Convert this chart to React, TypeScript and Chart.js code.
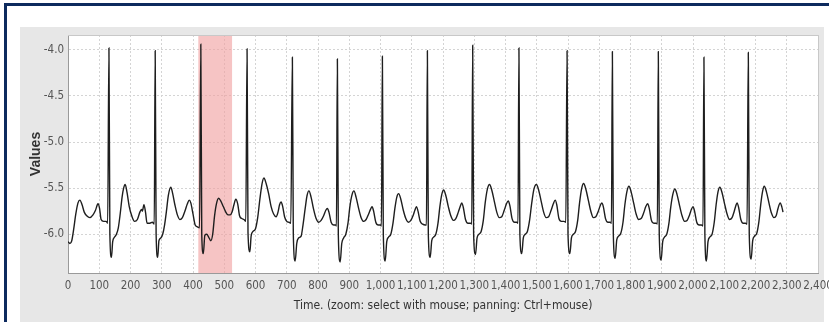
import React, { useEffect, useRef } from "react";
import { Chart, registerables } from "chart.js";

Chart.register(...registerables);

// ECG trace samples [time, value]
const leadIn: [number, number][] = [[0,-6.08],[6,-6.1],[12,-6.07],[18,-5.95],[25,-5.78],[32,-5.66],[38,-5.63],[45,-5.68],[52,-5.76],[60,-5.8],[70,-5.82],[80,-5.79],[88,-5.74],[96,-5.67],[101,-5.72],[106,-5.84],[114,-5.86],[122,-5.86],[127,-5.88]];
const beat1: [number, number][] = [[131,-3.98],[134,-6.0],[139,-6.25],[143,-6.08],[149,-6.03],[155,-6.0],[161,-5.93],[167,-5.78],[173,-5.6],[178,-5.5],[183,-5.46],[189,-5.55],[196,-5.7],[204,-5.8],[213,-5.86],[222,-5.84],[230,-5.76],[235,-5.73],[238,-5.75],[243,-5.68],[248,-5.76],[253,-5.88],[262,-5.88],[270,-5.87],[276,-5.89]];
const beat2: [number, number][] = [[279,-4.01],[282,-6.0],[287,-6.25],[291,-6.07],[297,-6.04],[303,-6.0],[309,-5.9],[315,-5.75],[321,-5.58],[329,-5.49],[335,-5.56],[342,-5.68],[350,-5.79],[358,-5.84],[366,-5.82],[374,-5.75],[382,-5.67],[388,-5.63],[393,-5.66],[400,-5.78],[407,-5.9],[414,-5.92],[421,-5.93]];
const beat3: [number, number][] = [[425,-3.94],[428,-6.0],[433,-6.21],[438,-6.01],[444,-6.0],[450,-6.03],[457,-6.07],[463,-6.0],[469,-5.8],[475,-5.67],[482,-5.61],[489,-5.64],[497,-5.7],[505,-5.76],[512,-5.79],[519,-5.79],[525,-5.76],[531,-5.68],[537,-5.62],[543,-5.67],[549,-5.8],[556,-5.83],[563,-5.84],[569,-5.86]];
const beat4: [number, number][] = [[573,-3.99],[576,-5.98],[582,-6.19],[586,-6.02],[592,-5.97],[600,-5.94],[607,-5.82],[614,-5.62],[621,-5.45],[627,-5.39],[634,-5.45],[642,-5.56],[650,-5.7],[658,-5.78],[666,-5.81],[672,-5.76],[677,-5.68],[682,-5.65],[687,-5.7],[693,-5.81],[700,-5.86],[707,-5.87],[713,-5.88]];
const beat5: [number, number][] = [[718,-4.08],[721,-6.0],[727,-6.29],[732,-6.1],[738,-6.04],[746,-6.02],[752,-5.9],[759,-5.72],[765,-5.58],[771,-5.53],[778,-5.6],[786,-5.73],[794,-5.83],[802,-5.87],[810,-5.85],[818,-5.8],[825,-5.74],[830,-5.72],[835,-5.76],[842,-5.87],[850,-5.9],[857,-5.9],[859,-5.91]];
const beat6: [number, number][] = [[862,-4.1],[865,-6.0],[871,-6.3],[876,-6.1],[882,-6.04],[889,-6.0],[896,-5.88],[902,-5.7],[909,-5.57],[915,-5.53],[922,-5.6],[930,-5.72],[938,-5.82],[946,-5.86],[954,-5.84],[962,-5.78],[968,-5.73],[973,-5.7],[978,-5.75],[985,-5.87],[993,-5.9],[1000,-5.9],[1003,-5.91]];
const beat7: [number, number][] = [[1006,-4.07],[1009,-6.0],[1015,-6.29],[1020,-6.08],[1026,-6.03],[1033,-6.0],[1040,-5.88],[1046,-5.72],[1052,-5.6],[1058,-5.56],[1065,-5.62],[1073,-5.74],[1081,-5.83],[1089,-5.87],[1097,-5.85],[1105,-5.79],[1110,-5.74],[1115,-5.7],[1120,-5.75],[1127,-5.86],[1135,-5.89],[1143,-5.9],[1147,-5.9]];
const beat8: [number, number][] = [[1150,-4.01],[1153,-6.0],[1159,-6.25],[1164,-6.07],[1170,-6.03],[1177,-6.0],[1184,-5.88],[1190,-5.7],[1196,-5.57],[1202,-5.52],[1209,-5.58],[1217,-5.7],[1225,-5.8],[1233,-5.85],[1241,-5.83],[1249,-5.76],[1255,-5.7],[1260,-5.66],[1265,-5.71],[1272,-5.84],[1280,-5.88],[1288,-5.88],[1292,-5.89]];
const beat9: [number, number][] = [[1295,-3.95],[1298,-6.0],[1304,-6.22],[1309,-6.04],[1315,-6.0],[1322,-5.97],[1329,-5.85],[1335,-5.66],[1342,-5.51],[1349,-5.46],[1356,-5.52],[1364,-5.64],[1372,-5.76],[1380,-5.82],[1388,-5.81],[1396,-5.74],[1403,-5.67],[1409,-5.64],[1414,-5.69],[1421,-5.83],[1429,-5.87],[1436,-5.87],[1440,-5.88]];
const beat10: [number, number][] = [[1443,-3.98],[1446,-6.0],[1452,-6.21],[1457,-6.04],[1463,-6.0],[1470,-5.97],[1477,-5.85],[1484,-5.66],[1491,-5.51],[1499,-5.46],[1506,-5.52],[1514,-5.64],[1522,-5.76],[1530,-5.82],[1538,-5.81],[1546,-5.74],[1553,-5.67],[1559,-5.63],[1564,-5.68],[1571,-5.83],[1579,-5.86],[1587,-5.86],[1593,-5.87]];
const beat11: [number, number][] = [[1597,-4.01],[1600,-6.0],[1606,-6.21],[1611,-6.04],[1617,-6.0],[1624,-5.97],[1631,-5.85],[1637,-5.66],[1644,-5.5],[1650,-5.45],[1657,-5.51],[1665,-5.63],[1673,-5.75],[1681,-5.82],[1689,-5.81],[1697,-5.75],[1703,-5.69],[1708,-5.66],[1713,-5.7],[1720,-5.83],[1728,-5.87],[1735,-5.87],[1739,-5.88]];
const beat12: [number, number][] = [[1742,-4.02],[1745,-6.0],[1751,-6.26],[1756,-6.06],[1762,-6.02],[1769,-5.99],[1776,-5.87],[1782,-5.68],[1789,-5.53],[1795,-5.48],[1802,-5.54],[1810,-5.66],[1818,-5.78],[1826,-5.84],[1834,-5.83],[1842,-5.77],[1849,-5.7],[1855,-5.67],[1860,-5.72],[1867,-5.85],[1875,-5.88],[1882,-5.88],[1886,-5.89]];
const beat13: [number, number][] = [[1889,-4.02],[1892,-6.0],[1898,-6.28],[1903,-6.08],[1909,-6.03],[1916,-6.0],[1923,-5.88],[1929,-5.7],[1936,-5.56],[1942,-5.51],[1949,-5.57],[1957,-5.69],[1965,-5.8],[1973,-5.86],[1981,-5.85],[1989,-5.79],[1995,-5.73],[2000,-5.7],[2005,-5.75],[2012,-5.87],[2020,-5.9],[2027,-5.9],[2032,-5.91]];
const beat14: [number, number][] = [[2035,-4.08],[2038,-6.0],[2043,-6.29],[2048,-6.08],[2054,-6.03],[2061,-6.0],[2068,-5.87],[2074,-5.68],[2080,-5.54],[2086,-5.49],[2093,-5.55],[2101,-5.67],[2109,-5.78],[2117,-5.84],[2125,-5.82],[2132,-5.75],[2137,-5.69],[2141,-5.66],[2146,-5.71],[2153,-5.84],[2161,-5.88],[2168,-5.88],[2173,-5.89]];
const beat15: [number, number][] = [[2177,-4.03],[2180,-6.0],[2186,-6.27],[2191,-6.07],[2197,-6.02],[2204,-5.99],[2211,-5.86],[2217,-5.67],[2223,-5.53],[2228,-5.48],[2235,-5.54],[2243,-5.66],[2251,-5.77],[2259,-5.82],[2266,-5.8],[2272,-5.72],[2279,-5.66],[2284,-5.7],[2288,-5.76]];

const beats = [leadIn, beat1, beat2, beat3, beat4, beat5, beat6, beat7, beat8, beat9, beat10, beat11, beat12, beat13, beat14, beat15];

const xRange = [0, 2400];
const xStep = 100;
const yRange = [-6.42, -3.84];
const yTickValues = [-6.0, -5.5, -5.0, -4.5, -4.0];
const highlightRange = [417, 525];

const xTitle = "Time. (zoom: select with mouse; panning: Ctrl+mouse)";
const yTitle = "Values";

// detect whether a condensed face is available; otherwise squeeze with letter spacing
function pickTextStyle() {
  const c = document.createElement("canvas").getContext("2d")!;
  c.font = "12px 'DejaVu Sans'";
  const normal = c.measureText("1,000").width;
  c.font = "condensed 12px 'DejaVu Sans'";
  const cond = c.measureText("1,000").width;
  if (cond < normal - 1) {
    return { family: "'DejaVu Sans'", weight: "condensed", size: 11.5, spacing: "0px" };
  }
  return { family: "'Liberation Sans', Arial, sans-serif", weight: "normal", size: 11.5, spacing: "-0.9px" };
}

const framePlugin = {
  id: "frame",
  beforeDraw(chart: any) {
    const { ctx, width, height, chartArea } = chart;
    ctx.save();
    ctx.fillStyle = "#ffffff";
    ctx.fillRect(0, 0, width, height);
    ctx.fillStyle = "#0d2a5e";
    ctx.fillRect(4, 3, width - 4, 3);
    ctx.fillRect(4, 3, 3, height - 3);
    ctx.fillStyle = "#e7e7e7";
    ctx.fillRect(20, 27, 804, height - 27);
    ctx.fillStyle = "#ffffff";
    ctx.fillRect(chartArea.left, chartArea.top, chartArea.right - chartArea.left, chartArea.bottom - chartArea.top);
    ctx.restore();
    ctx.letterSpacing = chart.options.plugins.frame.spacing;
  },
  beforeDatasetsDraw(chart: any) {
    const { ctx, chartArea, scales } = chart;
    const x0 = scales.x.getPixelForValue(highlightRange[0]);
    const x1 = scales.x.getPixelForValue(highlightRange[1]);
    ctx.save();
    ctx.fillStyle = "rgba(240, 160, 160, 0.62)";
    ctx.fillRect(x0, chartArea.top, x1 - x0, chartArea.bottom - chartArea.top);
    ctx.restore();
  },
  afterDraw(chart: any) {
    const { ctx, chartArea } = chart;
    ctx.letterSpacing = "0px";
    ctx.save();
    ctx.strokeStyle = "#c8c8c8";
    ctx.lineWidth = 1;
    ctx.beginPath();
    ctx.moveTo(chartArea.left, chartArea.top + 0.5);
    ctx.lineTo(chartArea.right + 0.5, chartArea.top + 0.5);
    ctx.lineTo(chartArea.right + 0.5, chartArea.bottom);
    ctx.stroke();
    ctx.restore();
  },
};

export default function App() {
  const ref = useRef<HTMLCanvasElement | null>(null);

  useEffect(() => {
    if (!ref.current) return;
    const ts = pickTextStyle();
    const tickFont = { family: ts.family, size: ts.size, weight: ts.weight };
    const data = beats.flat().map(([x, y]) => ({ x, y }));
    const chart = new Chart(ref.current, {
      type: "line",
      data: {
        datasets: [
          {
            data,
            borderColor: "#1e1e1e",
            borderWidth: 1.4,
            pointRadius: 0,
            cubicInterpolationMode: "monotone",
            fill: false,
          },
        ],
      },
      options: {
        animation: false,
        responsive: false,
        devicePixelRatio: 1,
        parsing: false,
        layout: { padding: { left: 20, right: 11, top: 35, bottom: 0 } },
        plugins: { legend: { display: false }, tooltip: { enabled: false }, frame: { spacing: ts.spacing } },
        scales: {
          x: {
            type: "linear",
            min: xRange[0],
            max: xRange[1],
            afterFit: (s: any) => { s.height = 49; s.paddingLeft = 0; s.paddingRight = 0; },
            ticks: {
              stepSize: xStep,
              autoSkip: false,
              maxRotation: 0,
              padding: 6,
              color: "#555",
              font: tickFont,
              callback: (v: any) => Number(v).toLocaleString("en-US"),
            },
            grid: { color: "#d4d4d4", lineWidth: 1, drawTicks: false },
            border: { color: "#9a9a9a", width: 1, dash: [2, 2] },
            title: {
              display: true,
              text: xTitle,
              color: "#333",
              font: { family: ts.family, size: 12, weight: ts.weight },
              padding: { top: 2, bottom: 9 },
            },
          },
          y: {
            type: "linear",
            min: yRange[0],
            max: yRange[1],
            afterFit: (s: any) => { s.width = 48; },
            afterBuildTicks: (s: any) => { s.ticks = yTickValues.map((v) => ({ value: v })); },
            ticks: {
              padding: 4,
              color: "#555",
              font: tickFont,
              callback: (v: any) => Number(v).toFixed(1),
            },
            grid: { color: "#d4d4d4", lineWidth: 1, drawTicks: false },
            border: { color: "#9a9a9a", width: 1, dash: [2, 2] },
            title: {
              display: true,
              text: yTitle,
              color: "#333",
              font: { family: "'Liberation Sans', 'DejaVu Sans', sans-serif", size: 14, weight: "bold" },
              padding: { top: 8, bottom: 0 },
            },
          },
        },
      },
      plugins: [framePlugin],
    } as any);
    return () => chart.destroy();
  }, []);

  return (
    <div style={{ position: "fixed", left: 0, top: 0, width: 829, height: 322 }}>
      <canvas ref={ref} width={829} height={322} style={{ display: "block", width: 829, height: 322 }} />
    </div>
  );
}
